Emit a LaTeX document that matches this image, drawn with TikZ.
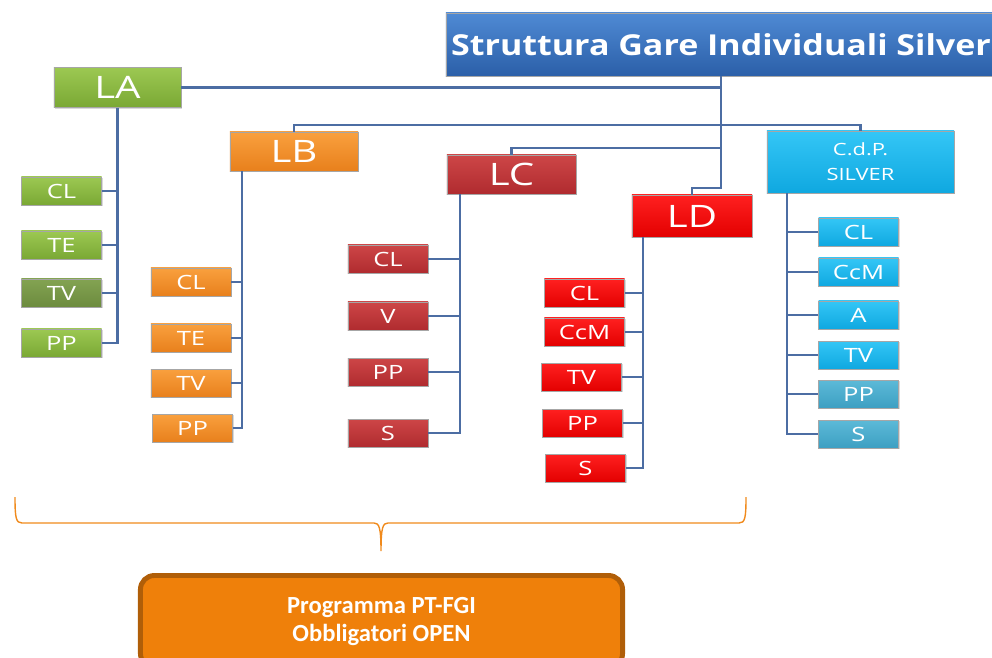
\documentclass[tikz,border=0pt]{standalone}
\usepackage{fontspec}
\usetikzlibrary{shadows}
\newfontfamily\boxfont[FakeStretch=1.3]{Open Sans}
\newfontfamily\titlefont[FakeStretch=1.18]{Open Sans}
\newfontfamily\progfont{Carlito}

\definecolor{gareBlueT}{HTML}{4F8AD4}
\definecolor{gareBlueB}{HTML}{2B5FA8}
\definecolor{gareGreenT}{HTML}{9CC852}
\definecolor{gareGreenB}{HTML}{7AA834}
\definecolor{gareOliveT}{HTML}{83A352}
\definecolor{gareOliveB}{HTML}{6C8B3E}
\definecolor{gareOrangeT}{HTML}{F9A03E}
\definecolor{gareOrangeB}{HTML}{E8801C}
\definecolor{gareWineT}{HTML}{CD4647}
\definecolor{gareWineB}{HTML}{B02B2F}
\definecolor{gareRedT}{HTML}{FF2020}
\definecolor{gareRedB}{HTML}{E30000}
\definecolor{gareCyanT}{HTML}{34C6F6}
\definecolor{gareCyanB}{HTML}{0FA8E0}
\definecolor{gareTealT}{HTML}{5CBAD8}
\definecolor{gareTealB}{HTML}{3D9FC2}
\definecolor{gareLink}{HTML}{4C6DA3}
\definecolor{gareBrace}{HTML}{F08A1C}
\definecolor{gareProg}{HTML}{EF800A}
\definecolor{gareProgEdge}{HTML}{B05E08}

\tikzset{
  box/.style={inner sep=0pt, text=white, draw=black!35, line width=0.4pt,
    drop shadow={shadow xshift=1pt, shadow yshift=-1pt, opacity=0.3}},
  kid/.style={box, minimum width=2cm, minimum height=0.7cm,
    font=\boxfont\fontsize{14}{16}\selectfont},
  head/.style={box, minimum height=1cm, font=\boxfont\fontsize{22}{24}\selectfont},
  gkid/.style={kid, top color=gareGreenT, bottom color=gareGreenB},
  okid/.style={kid, top color=gareOliveT, bottom color=gareOliveB},
  akid/.style={kid, top color=gareOrangeT, bottom color=gareOrangeB},
  wkid/.style={kid, top color=gareWineT, bottom color=gareWineB},
  rkid/.style={kid, top color=gareRedT, bottom color=gareRedB},
  ckid/.style={kid, top color=gareCyanT, bottom color=gareCyanB},
  tkid/.style={kid, top color=gareTealT, bottom color=gareTealB},
  link/.style={draw=gareLink, line width=1.7pt},
}

\begin{document}
\begin{tikzpicture}[x=0.025cm, y=-0.025cm]

% ================================================================
% Canvas: 992 x 657 px, y grows downward
% ================================================================
\useasboundingbox (0,0) rectangle (992,657);
\clip (0,0) rectangle (992,657);

% ================================================================
% Title and level heads
% ================================================================
\node[box, minimum width=13.75cm, minimum height=1.575cm,
  top color=gareBlueT, bottom color=gareBlueB,
  font=\titlefont\bfseries\fontsize{20.5}{24}\selectfont]
  (title) at (721,44.5) {Struttura Gare Individuali Silver};

\node[head, minimum width=3.175cm, top color=gareGreenT, bottom color=gareGreenB]
  (LA) at (117.5,87.5) {LA};
\node[head, minimum width=3.2cm, minimum height=0.975cm,
  top color=gareOrangeT, bottom color=gareOrangeB] (LB) at (294,151.5) {LB};
\node[head, minimum width=3.225cm, minimum height=0.975cm,
  top color=gareWineT, bottom color=gareWineB] (LC) at (511.5,174.5) {LC};
\node[head, minimum width=3cm, minimum height=1.05cm,
  top color=gareRedT, bottom color=gareRedB] (LD) at (692,216) {LD};
\node[box, minimum width=4.675cm, minimum height=1.55cm, align=center,
  top color=gareCyanT, bottom color=gareCyanB,
  font=\boxfont\fontsize{12}{17.8}\selectfont] (CdP) at (860.5,162) {C.d.P.\\SILVER};

% ================================================================
% Trunk and taps
% ================================================================
\coordinate (knee) at (721,188);
\coordinate (tapB) at (294,125);
\coordinate (tapC) at (721,148);
\draw[link] (title.south) -- (knee) -| (LD.north);
\draw[link] (LA.east) -- (LA.east -| title.south);
\draw[link] (LB.north) -- (tapB) -| (CdP.north);
\draw[link] (LC.north) |- (tapC);

% ================================================================
% LA: bus at x=117.5
% ================================================================
\foreach \lbl/\xx/\yy/\kst [count=\i] in {CL/61.5/191/gkid, TE/61.5/245/gkid,
    TV/61.5/293/okid, PP/61.5/343/gkid} {
  \node[\kst] (la\i) at (\xx,\yy) {\lbl};
  \draw[link] (la\i.east) -- (la\i.east -| LA.south);
}
\draw[link] (LA.south) |- (la4.east);

% ================================================================
% LB: bus at x=242
% ================================================================
\coordinate (busB) at (242,171);
\foreach \lbl/\xx/\yy [count=\i] in {CL/191/282, TE/191/338, TV/191/383, PP/192.5/428} {
  \node[akid] (lb\i) at (\xx,\yy) {\lbl};
  \draw[link] (lb\i.east) -- (lb\i.east -| busB);
}
\draw[link] (busB) |- (lb4.east);

% ================================================================
% LC: bus at x=460
% ================================================================
\coordinate (busC) at (460,194);
\foreach \lbl/\yy [count=\i] in {CL/259, V/316, PP/372, S/433} {
  \node[wkid] (lc\i) at (388,\yy) {\lbl};
  \draw[link] (lc\i.east) -- (lc\i.east -| busC);
}
\draw[link] (busC) |- (lc4.east);

% ================================================================
% LD: bus at x=643
% ================================================================
\coordinate (busD) at (643,237);
\foreach \lbl/\xx/\yy [count=\i] in {CL/584.5/293, CcM/584.5/332, TV/581.5/377,
    PP/582.5/423, S/585.5/468} {
  \node[rkid] (ld\i) at (\xx,\yy) {\lbl};
  \draw[link] (ld\i.east) -- (ld\i.east -| busD);
}
\draw[link] (busD) |- (ld5.east);

% ================================================================
% C.d.P. SILVER: bus at x=787, kids to the right
% ================================================================
\coordinate (busP) at (787,193);
\foreach \lbl/\yy/\kst [count=\i] in {CL/232/ckid, CcM/272/ckid, A/315/ckid,
    TV/355/ckid, PP/394/tkid, S/434/tkid} {
  \node[\kst] (cp\i) at (858.5,\yy) {\lbl};
  \draw[link] (cp\i.west) -- (cp\i.west -| busP);
}
\draw[link] (busP) |- (cp6.west);

% ================================================================
% Brace over LA..LD and programme box
% ================================================================
\draw[gareBrace, line width=1pt]
  (15,497) .. controls (15,518) and (16,523) .. (22,523) -- (374,523)
  .. controls (379,523) and (381,527) .. (381,551)
  .. controls (381,527) and (383,523) .. (388,523) -- (739,523)
  .. controls (745,523) and (746,518) .. (746,497);

\node[draw=gareProgEdge, line width=3.5pt, fill=gareProg, rounded corners=0.35cm,
  minimum width=12.05cm, minimum height=2.3cm, text=white, align=center,
  font=\progfont\bfseries\fontsize{17.5}{20.6}\selectfont]
  (prog) at (381.5,621.5) {Programma PT-FGI\\Obbligatori OPEN};

\end{tikzpicture}
\end{document}
